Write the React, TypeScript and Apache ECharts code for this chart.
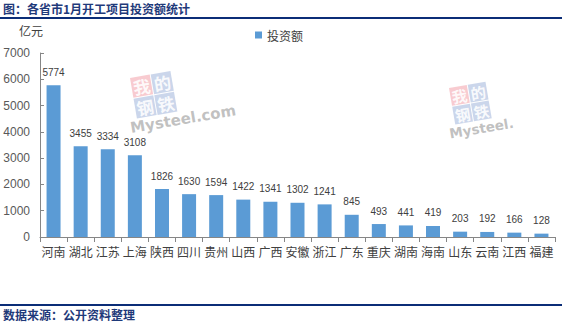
import React, { useEffect, useRef } from "react";
import * as echarts from "echarts";

const categories = ["河南", "湖北", "江苏", "上海", "陕西", "四川", "贵州", "山西", "广西", "安徽", "浙江", "广东", "重庆", "湖南", "海南", "山东", "云南", "江西", "福建"];
const investment = [5774, 3455, 3334, 3108, 1826, 1630, 1594, 1422, 1341, 1302, 1241, 845, 493, 441, 419, 203, 192, 166, 128];
const seriesName = "投资额";
const titleText = "图：各省市1月开工项目投资额统计";
const sourceText = "数据来源：公开资料整理";
const unitText = "亿元";

function logo(x: number, y: number, s: number, showCom: boolean) {
  const cell = 20 * s;
  const fs = 17 * s;
  return {
    type: "group",
    x,
    y,
    rotation: 0.17,
    silent: true,
    children: [
      { type: "rect", shape: { x: 0, y: 0, width: cell, height: cell }, style: { fill: "rgba(240,140,150,0.45)" } },
      { type: "rect", shape: { x: cell + 1, y: 0, width: cell, height: cell }, style: { fill: "rgba(140,165,210,0.45)" } },
      { type: "rect", shape: { x: 0, y: cell + 1, width: cell, height: cell }, style: { fill: "rgba(140,165,210,0.45)" } },
      { type: "rect", shape: { x: cell + 1, y: cell + 1, width: cell, height: cell }, style: { fill: "rgba(140,165,210,0.45)" } },
      { type: "text", x: cell / 2, y: cell / 2, style: { text: "我", fill: "rgba(255,255,255,0.9)", font: `bold ${fs}px "Noto Sans CJK SC"`, align: "center", verticalAlign: "middle" } },
      { type: "text", x: cell * 1.5 + 1, y: cell / 2, style: { text: "的", fill: "rgba(255,255,255,0.9)", font: `bold ${fs}px "Noto Sans CJK SC"`, align: "center", verticalAlign: "middle" } },
      { type: "text", x: cell / 2, y: cell * 1.5 + 1, style: { text: "钢", fill: "rgba(255,255,255,0.9)", font: `bold ${fs}px "Noto Sans CJK SC"`, align: "center", verticalAlign: "middle" } },
      { type: "text", x: cell * 1.5 + 1, y: cell * 1.5 + 1, style: { text: "铁", fill: "rgba(255,255,255,0.9)", font: `bold ${fs}px "Noto Sans CJK SC"`, align: "center", verticalAlign: "middle" } },
      { type: "text", x: -8 * s, y: cell * 2 + 2, style: { text: showCom ? "Mysteel.com" : "Mysteel.", fill: "rgba(165,165,165,0.7)", font: `bold ${15 * s}px "DejaVu Sans"`, align: "left", verticalAlign: "top" } },
    ],
  };
}

export default function App() {
  const ref = useRef<HTMLDivElement>(null);
  useEffect(() => {
    if (!ref.current) return;
    const chart = echarts.init(ref.current, undefined, { renderer: "svg" });
    chart.setOption({
      animation: false,
      backgroundColor: "#ffffff",
      legend: {
        top: 24,
        left: 250,
        itemWidth: 7,
        itemHeight: 7,
        itemGap: 6,
        data: [{ name: seriesName, icon: "rect" }],
        textStyle: { color: "#404040", fontSize: 12, fontFamily: "Noto Sans CJK SC" },
      },
      grid: { left: 40, right: 7, top: 53, bottom: 89 },
      xAxis: {
        type: "category",
        data: categories,
        axisLine: { lineStyle: { color: "#868686" } },
        axisTick: { show: true, alignWithLabel: false, length: 5, lineStyle: { color: "#868686" } },
        axisLabel: { color: "#404040", fontSize: 12, fontFamily: "Noto Sans CJK SC", margin: 8, interval: 0 },
      },
      yAxis: {
        type: "value",
        min: 0,
        max: 7000,
        interval: 1000,
        axisLine: { show: true, lineStyle: { color: "#868686" } },
        axisTick: { show: true, length: 4, inside: true, lineStyle: { color: "#868686" } },
        splitLine: { show: false },
        axisLabel: { color: "#595959", fontSize: 12, fontFamily: "Liberation Sans", margin: 10, formatter: (v: number) => String(v) },
      },
      series: [
        {
          name: seriesName,
          type: "bar",
          data: investment,
          barWidth: 14,
          itemStyle: { color: "#5B9BD5" },
          label: { show: true, position: "top", distance: 8, color: "#404040", fontSize: 10, fontFamily: "Liberation Sans" },
        },
      ],
      graphic: [
        { type: "text", left: 3, top: 2, style: { text: titleText, fill: "#1F3A7A", font: 'bold 12px "Noto Sans CJK SC"' } },
        { type: "rect", shape: { x: 0, y: 17, width: 562, height: 2 }, style: { fill: "#0B2D77" } },
        { type: "text", left: 19, top: 24, style: { text: unitText, fill: "#404040", font: '12px "Noto Sans CJK SC"' } },
        { type: "rect", shape: { x: 0, y: 304, width: 562, height: 2 }, style: { fill: "#0B2D77" } },
        { type: "text", left: 3, top: 308, style: { text: sourceText, fill: "#1F3A7A", font: 'bold 12px "Noto Sans CJK SC"' } },
        logo(130, 78, 1, true),
        logo(449, 88, 0.9, false),
      ],
    });
    return () => chart.dispose();
  }, []);
  return <div ref={ref} style={{ width: 562, height: 326, position: "absolute", left: 0, top: 0 }} />;
}
